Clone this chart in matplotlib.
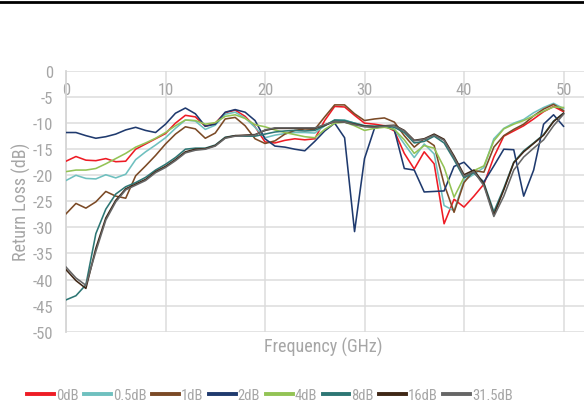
import matplotlib
matplotlib.use("Agg")
import matplotlib.pyplot as plt
from matplotlib.lines import Line2D

plt.rcParams['font.family'] = ['Roboto Condensed', 'Liberation Sans', 'DejaVu Sans']
plt.rcParams['axes.unicode_minus'] = False

freq = list(range(0, 51))

rl_0dB = [-17.3, -16.4, -17.1, -17.2, -16.8, -17.4, -17.3, -15.0, -14.0, -13.0,
          -12.0, -10.0, -8.5, -8.8, -10.6, -10.0, -8.0, -7.5, -8.7, -10.7,
          -13.6, -13.8, -13.3, -13.0, -13.2, -13.0, -9.5, -6.8, -6.9, -8.5,
          -10.0, -10.2, -10.5, -11.5, -15.8, -18.8, -15.5, -17.8, -29.3, -24.6,
          -26.1, -24.0, -21.7, -16.5, -12.5, -11.5, -10.5, -9.2, -7.8, -6.8, -7.8]
rl_05dB = [-21.0, -20.0, -20.6, -20.7, -19.9, -20.5, -19.8, -17.0, -15.5, -14.2,
           -12.8, -11.0, -9.4, -9.6, -11.2, -10.4, -8.3, -7.9, -9.0, -10.8,
           -12.8, -12.3, -12.0, -11.8, -11.8, -11.9, -10.5, -9.4, -9.4, -10.0,
           -10.5, -10.6, -10.5, -11.2, -14.0, -16.6, -14.0, -15.9, -25.8, -26.8,
           -21.0, -19.8, -18.5, -13.0, -11.0, -10.0, -9.3, -8.0, -7.0, -6.2, -7.2]
rl_1dB = [-27.4, -25.4, -26.3, -25.1, -23.1, -24.0, -24.4, -20.1, -18.2, -16.2,
          -14.0, -12.1, -10.7, -11.1, -12.9, -11.9, -9.2, -8.9, -10.5, -13.0,
          -13.9, -13.4, -12.1, -11.4, -11.1, -11.2, -8.8, -6.5, -6.5, -8.2,
          -9.5, -9.2, -9.0, -9.8, -12.4, -14.6, -13.0, -14.3, -21.7, -27.1,
          -21.4, -19.1, -19.4, -14.6, -12.4, -11.2, -10.2, -8.6, -7.3, -6.4, -7.6]
rl_2dB = [-11.8, -11.8, -12.4, -12.9, -12.6, -12.1, -11.3, -10.8, -11.4, -11.8,
          -10.2, -8.1, -7.1, -8.2, -10.6, -10.2, -7.9, -7.4, -7.9, -9.5,
          -13.0, -14.4, -14.6, -15.0, -15.3, -13.5, -11.5, -10.0, -12.8, -30.8,
          -16.8, -11.0, -10.5, -11.3, -18.7, -19.0, -23.2, -23.1, -23.0, -18.3,
          -17.5, -19.5, -21.3, -18.2, -15.0, -15.1, -24.0, -19.0, -10.2, -8.4, -10.6]
rl_4dB = [-19.3, -19.0, -19.0, -18.7, -17.8, -16.8, -15.8, -14.6, -13.8, -12.9,
          -11.8, -10.5, -9.4, -9.5, -10.2, -9.9, -8.7, -8.4, -9.1, -10.3,
          -10.7, -11.3, -11.8, -12.2, -12.6, -12.8, -11.2, -10.0, -9.8, -10.5,
          -11.4, -11.0, -10.8, -11.2, -13.2, -15.8, -14.3, -14.8, -18.5, -24.2,
          -20.4, -19.1, -18.2, -13.4, -11.1, -10.2, -9.5, -8.6, -7.7, -6.9, -7.0]
rl_8dB = [-43.9, -43.1, -41.0, -31.2, -26.5, -23.6, -22.2, -21.4, -20.4, -19.0,
          -17.9, -16.6, -15.0, -14.8, -14.8, -14.2, -12.7, -12.4, -12.5, -12.5,
          -12.1, -11.7, -11.5, -11.4, -11.5, -11.4, -10.5, -9.4, -9.5, -10.0,
          -10.5, -10.6, -10.5, -10.8, -11.8, -13.8, -13.5, -12.5, -13.8, -17.0,
          -20.5, -19.5, -21.5, -27.0, -22.5, -17.5, -15.3, -13.8, -12.2, -9.6, -8.1]
rl_16dB = [-38.1, -40.2, -41.7, -34.0, -28.2, -24.8, -22.6, -21.7, -20.8, -19.3,
           -18.3, -17.0, -15.5, -15.0, -14.9, -14.3, -12.8, -12.4, -12.3, -12.2,
           -11.4, -11.0, -11.0, -11.0, -11.0, -11.0, -10.4, -9.7, -9.8, -10.2,
           -10.6, -10.7, -10.5, -10.4, -11.4, -13.3, -13.0, -12.1, -13.1, -16.3,
           -19.9, -19.0, -21.7, -27.6, -22.8, -17.6, -15.5, -13.9, -12.3, -9.7, -8.1]
rl_315dB = [-37.6, -39.7, -41.1, -34.6, -28.6, -25.1, -22.8, -21.9, -21.0, -19.5,
            -18.5, -17.2, -15.7, -15.2, -15.0, -14.4, -12.9, -12.5, -12.4, -12.3,
            -11.3, -10.9, -10.9, -10.9, -10.9, -10.9, -10.3, -9.7, -9.8, -10.3,
            -10.7, -10.8, -10.6, -10.5, -11.5, -13.4, -13.1, -12.3, -13.3, -16.6,
            -20.2, -19.3, -22.0, -27.9, -24.0, -19.0, -16.5, -14.8, -13.2, -10.5, -8.3]

labels = ['0dB', '0.5dB', '1dB', '2dB', '4dB', '8dB', '16dB', '31.5dB']
series = [rl_0dB, rl_05dB, rl_1dB, rl_2dB, rl_4dB, rl_8dB, rl_16dB, rl_315dB]
colors = ['#ee1c25', '#6fc0bf', '#7b4a26', '#1f3a6e', '#93c355', '#2d7674', '#3f2716', '#666666']

x_ticks = [0, 10, 20, 30, 40, 50]
y_ticks = list(range(0, -55, -5))

W, H = 584, 406
fig = plt.figure(figsize=(W / 100, H / 100), dpi=100)
ax_l, ax_r = 66 / W, 1.0
ax_t, ax_b = 1 - 72 / H, 1 - 332.7 / H
ax = fig.add_axes([ax_l, ax_b, ax_r - ax_l, ax_t - ax_b])

for vals, c, lab in zip(series, colors, labels):
    ax.plot(freq, vals, color=c, lw=1.15, label=lab, zorder=3)

ax.set_xlim(0, (584 - 66) / 9.95)
ax.set_ylim(-50, 0)
ax.set_xticks(x_ticks)
ax.set_yticks(y_ticks)
ax.grid(True, color='#dcdcdc', lw=1.1, zorder=0)
ax.set_axisbelow(True)
for s in ['top', 'right', 'bottom']:
    ax.spines[s].set_visible(False)
ax.spines['left'].set_color('#d6d6d6')
ax.spines['left'].set_linewidth(1.3)

tick_color = '#a6a6a6'
ax.xaxis.set_ticks_position('top')
ax.tick_params(axis='x', which='both', length=0, labeltop=True, labelbottom=False,
               pad=-19, labelsize=12, labelcolor=tick_color)
ax.tick_params(axis='y', length=0, pad=9.5, labelsize=12, labelcolor=tick_color)

fig.text(323 / W, 1 - 347 / H, 'Frequency (GHz)', ha='center', va='center',
         fontsize=13, color=tick_color)
fig.text(21 / W, 1 - 202 / H, 'Return Loss (dB)', ha='center', va='center',
         rotation=90, fontsize=13, color=tick_color)

handles = [Line2D([0], [0], color=c, lw=2.8) for c in colors]
leg = fig.legend(handles, labels, loc='center', bbox_to_anchor=(270 / W, 1 - 396 / H),
                 ncol=8, frameon=False, fontsize=10.5, handlelength=1.85,
                 handletextpad=0.1, columnspacing=0.4, borderaxespad=0,
                 borderpad=0)
for t in leg.get_texts():
    t.set_color(tick_color)

# page border line at the top
fig.add_artist(Line2D([0, 1], [1 - 3 / H, 1 - 3 / H], transform=fig.transFigure,
                      color='black', lw=2.0))

fig.savefig('out.png', dpi=100)
